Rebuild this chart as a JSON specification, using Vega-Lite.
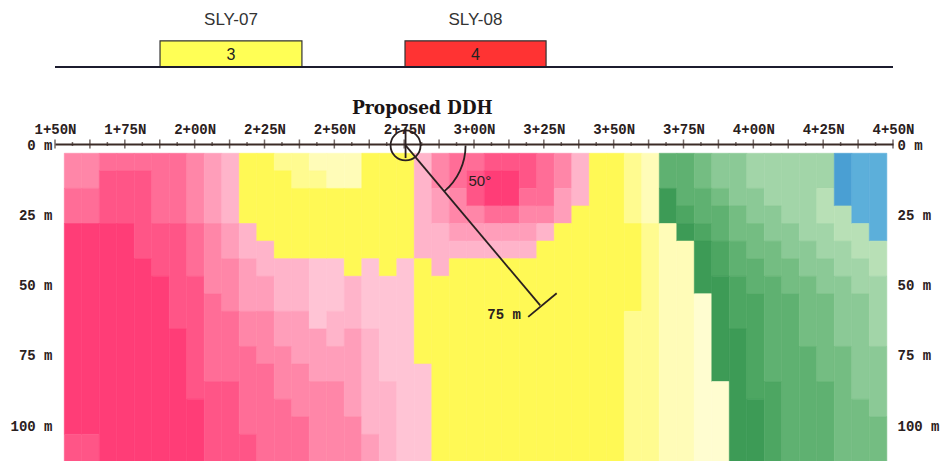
{
"$schema":"https://vega.github.io/schema/vega-lite/v6.json",
"width":838,"height":317,
"autosize":{"type":"none"},
"padding":{"left":55,"top":144,"right":50,"bottom":0},
"background":"white",
"config":{"view":{"stroke":null}},
"datasets":{
"segs":[
{"c":0,"a":0,"b":1,"k":"P4"},{"c":0,"a":2,"b":3,"k":"P3"},{"c":0,"a":4,"b":15,"k":"P1"},{"c":0,"a":16,"b":17,"k":"P2"},
{"c":1,"a":0,"b":1,"k":"P4"},{"c":1,"a":2,"b":3,"k":"P3"},{"c":1,"a":4,"b":15,"k":"P1"},{"c":1,"a":16,"b":17,"k":"P2"},
{"c":2,"a":0,"b":0,"k":"P3"},{"c":2,"a":1,"b":3,"k":"P2"},{"c":2,"a":4,"b":17,"k":"P1"},
{"c":3,"a":0,"b":0,"k":"P3"},{"c":3,"a":1,"b":3,"k":"P2"},{"c":3,"a":4,"b":17,"k":"P1"},
{"c":4,"a":0,"b":0,"k":"P3"},{"c":4,"a":1,"b":5,"k":"P2"},{"c":4,"a":6,"b":17,"k":"P1"},
{"c":5,"a":0,"b":3,"k":"P3"},{"c":5,"a":4,"b":6,"k":"P2"},{"c":5,"a":7,"b":17,"k":"P1"},
{"c":6,"a":0,"b":3,"k":"P3"},{"c":6,"a":4,"b":9,"k":"P2"},{"c":6,"a":10,"b":17,"k":"P1"},
{"c":7,"a":0,"b":3,"k":"P4"},{"c":7,"a":4,"b":6,"k":"P3"},{"c":7,"a":7,"b":13,"k":"P2"},{"c":7,"a":14,"b":17,"k":"P1"},
{"c":8,"a":0,"b":3,"k":"P5"},{"c":8,"a":4,"b":7,"k":"P4"},{"c":8,"a":8,"b":12,"k":"P3"},{"c":8,"a":13,"b":17,"k":"P2"},
{"c":9,"a":0,"b":3,"k":"P6"},{"c":9,"a":4,"b":5,"k":"P5"},{"c":9,"a":6,"b":8,"k":"P4"},{"c":9,"a":9,"b":12,"k":"P3"},{"c":9,"a":13,"b":17,"k":"P2"},
{"c":10,"a":0,"b":3,"k":"Y1"},{"c":10,"a":4,"b":5,"k":"P6"},{"c":10,"a":6,"b":8,"k":"P5"},{"c":10,"a":9,"b":10,"k":"P4"},{"c":10,"a":11,"b":15,"k":"P3"},{"c":10,"a":16,"b":17,"k":"P2"},
{"c":11,"a":0,"b":4,"k":"Y1"},{"c":11,"a":5,"b":6,"k":"P6"},{"c":11,"a":7,"b":8,"k":"P5"},{"c":11,"a":9,"b":11,"k":"P4"},{"c":11,"a":12,"b":17,"k":"P3"},
{"c":12,"a":0,"b":0,"k":"Y2"},{"c":12,"a":1,"b":5,"k":"Y1"},{"c":12,"a":6,"b":8,"k":"P6"},{"c":12,"a":9,"b":10,"k":"P5"},{"c":12,"a":11,"b":13,"k":"P4"},{"c":12,"a":14,"b":17,"k":"P3"},
{"c":13,"a":0,"b":1,"k":"Y2"},{"c":13,"a":2,"b":5,"k":"Y1"},{"c":13,"a":6,"b":8,"k":"P6"},{"c":13,"a":9,"b":11,"k":"P5"},{"c":13,"a":12,"b":14,"k":"P4"},{"c":13,"a":15,"b":17,"k":"P3"},
{"c":14,"a":0,"b":0,"k":"Y3"},{"c":14,"a":1,"b":1,"k":"Y2"},{"c":14,"a":2,"b":5,"k":"Y1"},{"c":14,"a":6,"b":9,"k":"P7"},{"c":14,"a":10,"b":12,"k":"P5"},{"c":14,"a":13,"b":17,"k":"P4"},
{"c":15,"a":0,"b":1,"k":"Y3"},{"c":15,"a":2,"b":5,"k":"Y1"},{"c":15,"a":6,"b":8,"k":"P7"},{"c":15,"a":9,"b":10,"k":"P6"},{"c":15,"a":11,"b":12,"k":"P5"},{"c":15,"a":13,"b":17,"k":"P4"},
{"c":16,"a":0,"b":1,"k":"Y3"},{"c":16,"a":2,"b":6,"k":"Y1"},{"c":16,"a":7,"b":9,"k":"P6"},{"c":16,"a":10,"b":14,"k":"P5"},{"c":16,"a":15,"b":17,"k":"P4"},
{"c":17,"a":0,"b":5,"k":"Y1"},{"c":17,"a":6,"b":9,"k":"P7"},{"c":17,"a":10,"b":15,"k":"P6"},{"c":17,"a":16,"b":17,"k":"P5"},
{"c":18,"a":0,"b":6,"k":"Y1"},{"c":18,"a":7,"b":12,"k":"P7"},{"c":18,"a":13,"b":17,"k":"P6"},
{"c":19,"a":0,"b":5,"k":"Y1"},{"c":19,"a":6,"b":17,"k":"P7"},
{"c":20,"a":0,"b":5,"k":"P6"},{"c":20,"a":6,"b":11,"k":"Y1"},{"c":20,"a":12,"b":17,"k":"P7"},
{"c":21,"a":0,"b":1,"k":"P4"},{"c":21,"a":2,"b":3,"k":"P5"},{"c":21,"a":4,"b":6,"k":"P6"},{"c":21,"a":7,"b":17,"k":"Y1"},
{"c":22,"a":0,"b":1,"k":"P3"},{"c":22,"a":2,"b":3,"k":"P4"},{"c":22,"a":4,"b":4,"k":"P5"},{"c":22,"a":5,"b":5,"k":"P6"},{"c":22,"a":6,"b":17,"k":"Y1"},
{"c":23,"a":0,"b":0,"k":"P3"},{"c":23,"a":1,"b":2,"k":"P2"},{"c":23,"a":3,"b":3,"k":"P4"},{"c":23,"a":4,"b":4,"k":"P5"},{"c":23,"a":5,"b":5,"k":"P6"},{"c":23,"a":6,"b":17,"k":"Y1"},
{"c":24,"a":0,"b":0,"k":"P2"},{"c":24,"a":1,"b":2,"k":"P1"},{"c":24,"a":3,"b":3,"k":"P3"},{"c":24,"a":4,"b":4,"k":"P5"},{"c":24,"a":5,"b":5,"k":"P6"},{"c":24,"a":6,"b":17,"k":"Y1"},
{"c":25,"a":0,"b":0,"k":"P2"},{"c":25,"a":1,"b":2,"k":"P1"},{"c":25,"a":3,"b":3,"k":"P3"},{"c":25,"a":4,"b":4,"k":"P5"},{"c":25,"a":5,"b":5,"k":"P6"},{"c":25,"a":6,"b":17,"k":"Y1"},
{"c":26,"a":0,"b":1,"k":"P2"},{"c":26,"a":2,"b":2,"k":"P3"},{"c":26,"a":3,"b":3,"k":"P4"},{"c":26,"a":4,"b":4,"k":"P5"},{"c":26,"a":5,"b":5,"k":"P6"},{"c":26,"a":6,"b":17,"k":"Y1"},
{"c":27,"a":0,"b":2,"k":"P3"},{"c":27,"a":3,"b":3,"k":"P4"},{"c":27,"a":4,"b":4,"k":"P6"},{"c":27,"a":5,"b":17,"k":"Y1"},
{"c":28,"a":0,"b":1,"k":"P4"},{"c":28,"a":2,"b":3,"k":"P5"},{"c":28,"a":4,"b":17,"k":"Y1"},
{"c":29,"a":0,"b":2,"k":"P6"},{"c":29,"a":3,"b":17,"k":"Y1"},
{"c":30,"a":0,"b":17,"k":"Y1"},
{"c":31,"a":0,"b":17,"k":"Y1"},
{"c":32,"a":0,"b":3,"k":"Y2"},{"c":32,"a":4,"b":8,"k":"Y1"},{"c":32,"a":9,"b":17,"k":"Y2"},
{"c":33,"a":0,"b":3,"k":"Y3"},{"c":33,"a":4,"b":17,"k":"Y2"},
{"c":34,"a":0,"b":1,"k":"G3"},{"c":34,"a":2,"b":3,"k":"G1"},{"c":34,"a":4,"b":17,"k":"Y3"},
{"c":35,"a":0,"b":2,"k":"G3"},{"c":35,"a":3,"b":3,"k":"G2"},{"c":35,"a":4,"b":4,"k":"G1"},{"c":35,"a":5,"b":17,"k":"Y3"},
{"c":36,"a":0,"b":1,"k":"G4"},{"c":36,"a":2,"b":3,"k":"G3"},{"c":36,"a":4,"b":4,"k":"G2"},{"c":36,"a":5,"b":7,"k":"G1"},{"c":36,"a":8,"b":17,"k":"Y4"},
{"c":37,"a":0,"b":1,"k":"G5"},{"c":37,"a":2,"b":2,"k":"G4"},{"c":37,"a":3,"b":4,"k":"G3"},{"c":37,"a":5,"b":6,"k":"G2"},{"c":37,"a":7,"b":12,"k":"G1"},{"c":37,"a":13,"b":17,"k":"Y4"},
{"c":38,"a":0,"b":2,"k":"G5"},{"c":38,"a":3,"b":4,"k":"G4"},{"c":38,"a":5,"b":6,"k":"G3"},{"c":38,"a":7,"b":9,"k":"G2"},{"c":38,"a":10,"b":17,"k":"G1"},
{"c":39,"a":0,"b":1,"k":"G6"},{"c":39,"a":2,"b":3,"k":"G5"},{"c":39,"a":4,"b":5,"k":"G4"},{"c":39,"a":6,"b":7,"k":"G3"},{"c":39,"a":8,"b":13,"k":"G2"},{"c":39,"a":14,"b":17,"k":"G1"},
{"c":40,"a":0,"b":2,"k":"G6"},{"c":40,"a":3,"b":4,"k":"G5"},{"c":40,"a":5,"b":6,"k":"G4"},{"c":40,"a":7,"b":12,"k":"G3"},{"c":40,"a":13,"b":17,"k":"G2"},
{"c":41,"a":0,"b":3,"k":"G6"},{"c":41,"a":4,"b":5,"k":"G5"},{"c":41,"a":6,"b":7,"k":"G4"},{"c":41,"a":8,"b":17,"k":"G3"},
{"c":42,"a":0,"b":4,"k":"G6"},{"c":42,"a":5,"b":6,"k":"G5"},{"c":42,"a":7,"b":10,"k":"G4"},{"c":42,"a":11,"b":17,"k":"G3"},
{"c":43,"a":0,"b":1,"k":"G6"},{"c":43,"a":2,"b":3,"k":"G7"},{"c":43,"a":4,"b":5,"k":"G6"},{"c":43,"a":6,"b":7,"k":"G5"},{"c":43,"a":8,"b":12,"k":"G4"},{"c":43,"a":13,"b":17,"k":"G3"},
{"c":44,"a":0,"b":2,"k":"B1"},{"c":44,"a":3,"b":4,"k":"G7"},{"c":44,"a":5,"b":6,"k":"G6"},{"c":44,"a":7,"b":10,"k":"G5"},{"c":44,"a":11,"b":17,"k":"G4"},
{"c":45,"a":0,"b":3,"k":"B2"},{"c":45,"a":4,"b":5,"k":"G7"},{"c":45,"a":6,"b":7,"k":"G6"},{"c":45,"a":8,"b":13,"k":"G5"},{"c":45,"a":14,"b":17,"k":"G4"},
{"c":46,"a":0,"b":4,"k":"B2"},{"c":46,"a":5,"b":6,"k":"G7"},{"c":46,"a":7,"b":10,"k":"G6"},{"c":46,"a":11,"b":14,"k":"G5"},{"c":46,"a":15,"b":17,"k":"G4"}
],
"cols":[
{"c":0,"x0":153.33,"x1":159.6},{"c":1,"x0":159.6,"x1":165.86},{"c":2,"x0":165.86,"x1":172.13},{"c":3,"x0":172.13,"x1":178.39},
{"c":4,"x0":178.39,"x1":184.66},{"c":5,"x0":184.66,"x1":190.92},{"c":6,"x0":190.92,"x1":197.19},{"c":7,"x0":197.19,"x1":203.45},
{"c":8,"x0":203.45,"x1":209.72},{"c":9,"x0":209.72,"x1":215.98},{"c":10,"x0":215.98,"x1":222.25},{"c":11,"x0":222.25,"x1":228.51},
{"c":12,"x0":228.51,"x1":234.78},{"c":13,"x0":234.78,"x1":241.04},{"c":14,"x0":241.04,"x1":247.31},{"c":15,"x0":247.31,"x1":253.57},
{"c":16,"x0":253.57,"x1":259.84},{"c":17,"x0":259.84,"x1":266.1},{"c":18,"x0":266.1,"x1":272.37},{"c":19,"x0":272.37,"x1":278.63},
{"c":20,"x0":278.63,"x1":284.9},{"c":21,"x0":284.9,"x1":291.16},{"c":22,"x0":291.16,"x1":297.43},{"c":23,"x0":297.43,"x1":303.69},
{"c":24,"x0":303.69,"x1":309.96},{"c":25,"x0":309.96,"x1":316.22},{"c":26,"x0":316.22,"x1":322.49},{"c":27,"x0":322.49,"x1":328.75},
{"c":28,"x0":328.75,"x1":335.02},{"c":29,"x0":335.02,"x1":341.28},{"c":30,"x0":341.28,"x1":347.55},{"c":31,"x0":347.55,"x1":353.81},
{"c":32,"x0":353.81,"x1":360.08},{"c":33,"x0":360.08,"x1":366.34},{"c":34,"x0":366.34,"x1":372.61},{"c":35,"x0":372.61,"x1":378.87},
{"c":36,"x0":378.87,"x1":385.14},{"c":37,"x0":385.14,"x1":391.4},{"c":38,"x0":391.4,"x1":397.67},{"c":39,"x0":397.67,"x1":403.93},
{"c":40,"x0":403.93,"x1":410.2},{"c":41,"x0":410.2,"x1":416.46},{"c":42,"x0":416.46,"x1":422.73},{"c":43,"x0":422.73,"x1":428.99},
{"c":44,"x0":428.99,"x1":435.26},{"c":45,"x0":435.26,"x1":441.52},{"c":46,"x0":441.52,"x1":447.79}
],
"rws":[
{"r":0,"top":3.3,"bot":9.55},{"r":1,"top":9.55,"bot":15.8},{"r":2,"top":15.8,"bot":22.05},{"r":3,"top":22.05,"bot":28.3},
{"r":4,"top":28.3,"bot":34.55},{"r":5,"top":34.55,"bot":40.8},{"r":6,"top":40.8,"bot":47.05},{"r":7,"top":47.05,"bot":53.3},
{"r":8,"top":53.3,"bot":59.55},{"r":9,"top":59.55,"bot":65.8},{"r":10,"top":65.8,"bot":72.05},{"r":11,"top":72.05,"bot":78.3},
{"r":12,"top":78.3,"bot":84.55},{"r":13,"top":84.55,"bot":90.8},{"r":14,"top":90.8,"bot":97.05},{"r":15,"top":97.05,"bot":103.3},
{"r":16,"top":103.3,"bot":109.55},{"r":17,"top":109.55,"bot":115.8}
],
"ticks":[
{"s":150,"z":"M"},{"s":156.25,"z":"m"},{"s":162.5,"z":"M"},{"s":168.75,"z":"m"},{"s":175,"z":"M"},{"s":181.25,"z":"m"},{"s":187.5,"z":"M"},{"s":193.75,"z":"m"},
{"s":200,"z":"M"},{"s":206.25,"z":"m"},{"s":212.5,"z":"M"},{"s":218.75,"z":"m"},{"s":225,"z":"M"},{"s":231.25,"z":"m"},{"s":237.5,"z":"M"},{"s":243.75,"z":"m"},
{"s":250,"z":"M"},{"s":256.25,"z":"m"},{"s":262.5,"z":"M"},{"s":268.75,"z":"m"},{"s":275,"z":"M"},{"s":281.25,"z":"m"},{"s":287.5,"z":"M"},{"s":293.75,"z":"m"},
{"s":300,"z":"M"},{"s":306.25,"z":"m"},{"s":312.5,"z":"M"},{"s":318.75,"z":"m"},{"s":325,"z":"M"},{"s":331.25,"z":"m"},{"s":337.5,"z":"M"},{"s":343.75,"z":"m"},
{"s":350,"z":"M"},{"s":356.25,"z":"m"},{"s":362.5,"z":"M"},{"s":368.75,"z":"m"},{"s":375,"z":"M"},{"s":381.25,"z":"m"},{"s":387.5,"z":"M"},{"s":393.75,"z":"m"},
{"s":400,"z":"M"},{"s":406.25,"z":"m"},{"s":412.5,"z":"M"},{"s":418.75,"z":"m"},{"s":425,"z":"M"},{"s":431.25,"z":"m"},{"s":437.5,"z":"M"},{"s":443.75,"z":"m"},
{"s":450,"z":"M"}
],
"boxes":[
{"w":"SLY-07","v":"3","a":187.6,"b":238.4,"c":213},
{"w":"SLY-08","v":"4","a":275.3,"b":325.8,"c":300.5}
],
"ddh":[{"s":275.5,"d":0.5},{"s":323.7,"d":57.45}]
},
"resolve":{"axis":{"x":"independent","y":"independent"}},
"layer":[
{
"data":{"name":"segs"},
"transform":[
{"lookup":"c","from":{"data":{"name":"cols"},"key":"c","fields":["x0","x1"]}},
{"lookup":"a","from":{"data":{"name":"rws"},"key":"r","fields":["top"]}},
{"lookup":"b","from":{"data":{"name":"rws"},"key":"r","fields":["bot"]}}
],
"mark":{"type":"rect","strokeWidth":0.6},
"encoding":{
"x":{"field":"x0","type":"quantitative","scale":{"domain":[150,450],"nice":false,"zero":false},
"axis":{"orient":"top","values":[150,175,200,225,250,275,300,325,350,375,400,425,450],
"labelExpr":"floor(datum.value/100) + '+' + (datum.value % 100 == 0 ? '00' : datum.value % 100) + 'N'",
"ticks":false,"grid":false,"title":null,"domainColor":"#3b2b26","domainWidth":2,
"labelFont":"Liberation Mono","labelFontSize":14,"labelFontWeight":"bold","labelColor":"#2a2020",
"labelPadding":8,"labelFlush":false,"labelOverlap":false}},
"x2":{"field":"x1"},
"y":{"field":"top","type":"quantitative","scale":{"domain":[0,112.8],"nice":false,"zero":false,"reverse":true},
"axis":{"orient":"left","values":[0,25,50,75,100],"labelExpr":"datum.value + ' m'","domain":false,"ticks":false,"grid":false,"title":null,
"labelFont":"Liberation Mono","labelFontSize":14,"labelFontWeight":"bold","labelColor":"#2a2020","labelPadding":3,"labelOffset":1,"labelOverlap":false}},
"y2":{"field":"bot"},
"color":{"field":"k","type":"nominal","legend":null,"scale":{
"domain":["P1","P2","P3","P4","P5","P6","P7","Y1","Y2","Y3","Y4","G1","G2","G3","G4","G5","G6","G7","B1","B2"],
"range":["#FF3D77","#FF5587","#FF6D97","#FF86A8","#FF9EBA","#FFB4CA","#FFC4D5","#FFF955","#FFFB90","#FFFCB8","#FFFDD0","#3D9B56","#4DA662","#5FB171","#74BD82","#8BC996","#A2D5A8","#B8E0B6","#4A9FD3","#5CAFDA"]}},
"stroke":{"field":"k","type":"nominal","legend":null,"scale":{
"domain":["P1","P2","P3","P4","P5","P6","P7","Y1","Y2","Y3","Y4","G1","G2","G3","G4","G5","G6","G7","B1","B2"],
"range":["#FF3D77","#FF5587","#FF6D97","#FF86A8","#FF9EBA","#FFB4CA","#FFC4D5","#FFF955","#FFFB90","#FFFCB8","#FFFDD0","#3D9B56","#4DA662","#5FB171","#74BD82","#8BC996","#A2D5A8","#B8E0B6","#4A9FD3","#5CAFDA"]}}
}
},
{
"data":{"name":"ticks"},
"mark":{"type":"tick","orient":"vertical","thickness":1.5,"color":"#3b2b26"},
"encoding":{
"x":{"field":"s","type":"quantitative","axis":null},
"y":{"datum":0,"axis":null},
"size":{"field":"z","type":"nominal","legend":null,"scale":{"domain":["M","m"],"range":[9,4]}}
}
},
{
"data":{"name":"ddh"},
"mark":{"type":"line","color":"#2a2020","strokeWidth":1.8},
"encoding":{
"x":{"field":"s","type":"quantitative","axis":null},
"y":{"field":"d","type":"quantitative","axis":{"orient":"right","values":[0,25,50,75,100],"labelExpr":"datum.value + ' m'","domain":false,"ticks":false,"grid":false,"title":null,
"labelFont":"Liberation Mono","labelFontSize":14,"labelFontWeight":"bold","labelColor":"#2a2020","labelPadding":4,"labelOffset":1,"labelOverlap":false}}
}
},
{
"data":{"values":[{"s":319.4,"d":61.5,"s2":329.6,"d2":53.1}]},
"mark":{"type":"rule","color":"#2a2020","strokeWidth":1.8},
"encoding":{
"x":{"field":"s","type":"quantitative","axis":null},"x2":{"field":"s2"},
"y":{"field":"d","type":"quantitative","axis":null},"y2":{"field":"d2"}
}
},
{
"data":{"values":[{"s":275.5,"d":-6,"d2":5}]},
"mark":{"type":"rule","color":"#2a2020","strokeWidth":1.8},
"encoding":{
"x":{"field":"s","type":"quantitative","axis":null},
"y":{"field":"d","type":"quantitative","axis":null},"y2":{"field":"d2"}
}
},
{
"data":{"values":[{"s":275.5,"d":0.5}]},
"mark":{"type":"point","shape":"circle","size":900,"filled":false,"stroke":"#2a2020","strokeWidth":1.8,"opacity":1},
"encoding":{
"x":{"field":"s","type":"quantitative","axis":null},
"y":{"field":"d","type":"quantitative","axis":null}
}
},
{
"data":{"values":[{"s":275.5,"d":0.5}]},
"mark":{"type":"point","shape":"M 1 0 A 1 1 0 0 1 0.643 0.766","size":14400,"filled":false,"stroke":"#2a2020","strokeWidth":1.8,"opacity":1},
"encoding":{
"x":{"field":"s","type":"quantitative","axis":null},
"y":{"field":"d","type":"quantitative","axis":null}
}
},
{
"data":{"values":[{"t":"50°","s":302.1,"d":13.2}]},
"mark":{"type":"text","font":"Liberation Sans","fontSize":15,"color":"#2a2020","align":"center","baseline":"middle"},
"encoding":{
"x":{"field":"s","type":"quantitative","axis":null},
"y":{"field":"d","type":"quantitative","axis":null},
"text":{"field":"t"}
}
},
{
"data":{"values":[{"t":"75 m","s":316.8,"d":60.9}]},
"mark":{"type":"text","font":"Liberation Mono","fontSize":14,"fontWeight":"bold","color":"#2a2020","align":"right","baseline":"middle"},
"encoding":{
"x":{"field":"s","type":"quantitative","axis":null},
"y":{"field":"d","type":"quantitative","axis":null},
"text":{"field":"t"}
}
},
{
"data":{"values":[{"t":"Proposed DDH","s":281.5}]},
"mark":{"type":"text","font":"DejaVu Serif Condensed, DejaVu Serif","fontSize":19,"fontWeight":"bold","color":"#1a1414","align":"center","baseline":"middle"},
"encoding":{
"x":{"field":"s","type":"quantitative","axis":null},
"y":{"datum":-12.8,"axis":null},
"text":{"field":"t"}
}
},
{
"data":{"name":"boxes"},
"mark":{"type":"rect","stroke":"#333333","strokeWidth":1.2},
"encoding":{
"x":{"field":"a","type":"quantitative","axis":null},"x2":{"field":"b"},
"y":{"datum":-36.7,"axis":null},"y2":{"datum":-27.4},
"fill":{"field":"v","type":"nominal","legend":null,"scale":{"domain":["3","4"],"range":["#FFFF55","#FF3333"]}}
}
},
{
"data":{"name":"boxes"},
"mark":{"type":"text","font":"Liberation Sans","fontSize":16,"color":"#222222","align":"center","baseline":"middle"},
"encoding":{
"x":{"field":"c","type":"quantitative","axis":null},
"y":{"datum":-31.8,"axis":null},
"text":{"field":"v"}
}
},
{
"data":{"name":"boxes"},
"mark":{"type":"text","font":"Liberation Sans","fontSize":17,"color":"#333333","align":"center","baseline":"middle"},
"encoding":{
"x":{"field":"c","type":"quantitative","axis":null},
"y":{"datum":-44,"axis":null},
"text":{"field":"w"}
}
},
{
"data":{"values":[{"a":150,"b":450}]},
"mark":{"type":"rule","color":"#1c1c2e","strokeWidth":2},
"encoding":{
"x":{"field":"a","type":"quantitative","axis":null},"x2":{"field":"b"},
"y":{"datum":-27.4,"axis":null}
}
}
]
}
